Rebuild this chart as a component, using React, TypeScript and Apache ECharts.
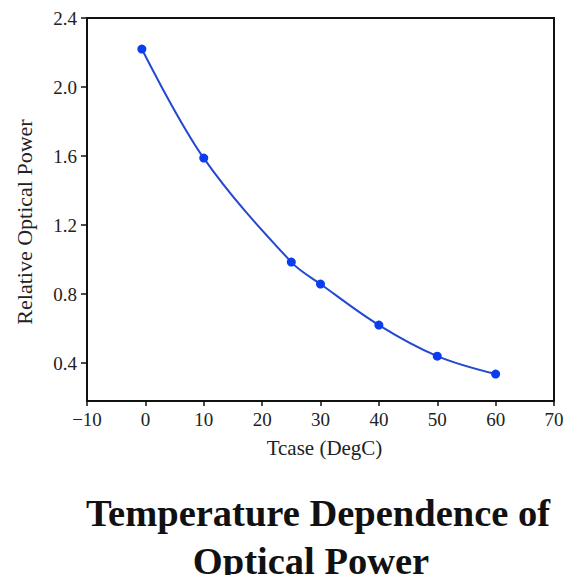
import React, { useEffect, useRef } from "react";
import * as echarts from "echarts";

const tcase = [-0.6, 10, 25, 30, 40, 50, 60];
const relPower = [2.22, 1.588, 0.985, 0.858, 0.62, 0.44, 0.336];
const yTicks = [0.4, 0.8, 1.2, 1.6, 2.0, 2.4];
const titleLines = ["Temperature Dependence of", "Optical Power"];

const FONT = "'Liberation Serif', 'Times New Roman', serif";

export default function App() {
  const ref = useRef<HTMLDivElement>(null);
  useEffect(() => {
    if (!ref.current) return;
    const chart = echarts.init(ref.current, null, { renderer: "svg" });
    chart.setOption({
      animation: false,
      backgroundColor: "#ffffff",
      grid: {
        left: 87,
        right: 20,
        top: 18,
        bottom: 182,
        show: true,
        borderColor: "#111",
        borderWidth: 2,
      },
      xAxis: {
        type: "value",
        min: -10,
        max: 70,
        interval: 10,
        name: "Tcase (DegC)",
        nameLocation: "middle",
        nameGap: 36,
        nameTextStyle: { fontFamily: FONT, fontSize: 21, color: "#222", padding: [0, 0, 0, 8] },
        axisLine: { show: true, onZero: false, lineStyle: { color: "#111", width: 2 } },
        axisTick: { show: true, length: 5, lineStyle: { color: "#111", width: 1.5 } },
        axisLabel: {
          fontFamily: FONT,
          fontSize: 19,
          color: "#222",
          margin: 9,
          formatter: (v: number) => (v < 0 ? "\u2212" + Math.abs(v) : String(v)),
        },
        splitLine: { show: false },
      },
      yAxis: {
        type: "value",
        min: 0.18,
        max: 2.4,
        name: "Relative Optical Power",
        nameLocation: "middle",
        nameGap: 52,
        nameRotate: 90,
        nameTextStyle: { fontFamily: FONT, fontSize: 22, color: "#222", padding: [0, 25, 0, 0] },
        axisLine: { show: true, onZero: false, lineStyle: { color: "#111", width: 2 } },
        axisTick: {
          show: true,
          length: 6,
          customValues: yTicks,
          lineStyle: { color: "#111", width: 1.5 },
        },
        axisLabel: {
          fontFamily: FONT,
          fontSize: 19,
          color: "#222",
          margin: 10,
          customValues: yTicks,
          formatter: (v: number) => v.toFixed(1),
        },
        splitLine: { show: false },
      },
      series: [
        {
          type: "line",
          data: tcase.map((x, i) => [x, relPower[i]]),
          smooth: 0.35,
          symbol: "circle",
          symbolSize: 9,
          lineStyle: { color: "#2448d0", width: 2 },
          itemStyle: { color: "#0a3cf0" },
        },
      ],
      graphic: [
        {
          type: "text",
          x: 318,
          y: 513,
          style: {
            text: titleLines[0],
            fontFamily: FONT,
            fontWeight: "bold",
            fontSize: 38.5,
            fill: "#111",
            align: "center",
            verticalAlign: "middle",
          },
        },
        {
          type: "text",
          x: 311,
          y: 561,
          style: {
            text: titleLines[1],
            fontFamily: FONT,
            fontWeight: "bold",
            fontSize: 38.5,
            fill: "#111",
            align: "center",
            verticalAlign: "middle",
          },
        },
      ],
    });
    return () => chart.dispose();
  }, []);
  return <div ref={ref} style={{ width: 574, height: 583, margin: -8 }} />;
}
